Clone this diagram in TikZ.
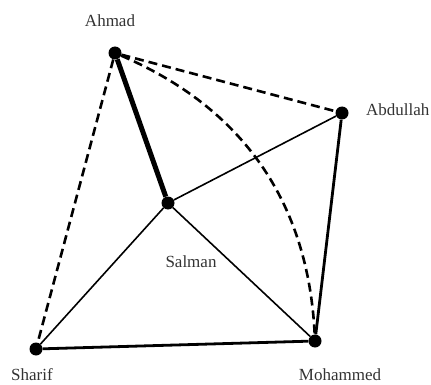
\documentclass[tikz,border=0pt]{standalone}
\usepackage{fontspec}
\setmainfont{Liberation Serif}
\usetikzlibrary{positioning}
\definecolor{ctexto}{HTML}{333333}
\tikzset{
  punto/.style={circle, fill=black, minimum size=13pt, inner sep=0pt},
  etq/.style={font=\fontsize{17}{20}\selectfont, text=ctexto, inner sep=0pt, anchor=base},
  fina/.style={line width=1.6pt},
  gruesa/.style={line width=2.8pt},
  muygruesa/.style={line width=5pt},
  rayada/.style={line width=2.6pt, dash pattern=on 9pt off 5pt},
}

\begin{document}
\begin{tikzpicture}[x=1pt, y=-1pt]
  \useasboundingbox (0,0) rectangle (431,385);
  \node[punto] (ahmad) at (115,53) {};
  \node[punto] (abdullah) at (342,113) {};
  \node[punto] (salman) at (168,203) {};
  \node[punto] (sharif) at (36,349) {};
  \node[punto] (mohammed) at (315,341) {};
  \node[etq] (ahmadl) at (110,27) {Ahmad};
  \node[etq, anchor=base west] (abdullahl) at (366,116) {Abdullah};
  \node[etq] (salmanl) at (191,267) {Salman};
  \node[etq] (sharifl) at (32,380) {Sharif};
  \node[etq] (mohammedl) at (340,380) {Mohammed};
  % dashed ties
  \draw[rayada] (ahmad) -- (abdullah);
  \draw[rayada] (ahmad) -- (sharif);
  \draw[rayada] (ahmad) to[bend left=32] (mohammed);
  % solid ties
  \draw[muygruesa] (ahmad) -- (salman);
  \draw[fina] (salman) -- (abdullah);
  \draw[fina] (salman) -- (sharif);
  \draw[fina] (salman) -- (mohammed);
  \draw[gruesa] (abdullah) -- (mohammed);
  \draw[gruesa] (sharif) -- (mohammed);
\end{tikzpicture}
\end{document}
